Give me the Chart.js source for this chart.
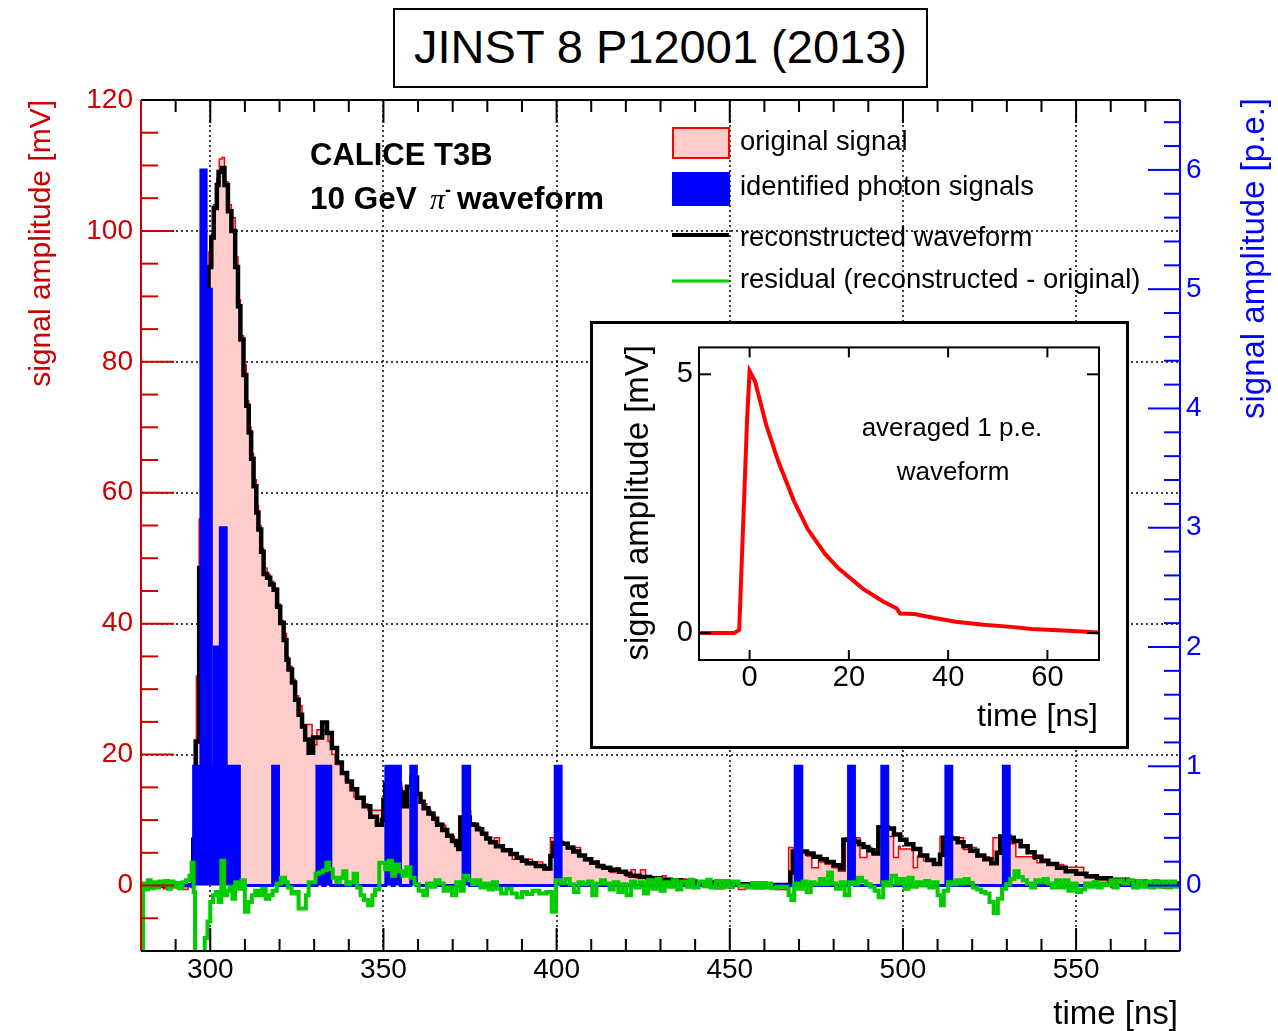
<!DOCTYPE html>
<html>
<head>
<meta charset="utf-8">
<script src="https://cdn.jsdelivr.net/npm/chart.js@4.4.1/dist/chart.umd.min.js"></script>
<style>
  body { margin: 0; background: #fff; }
  #wrap { position: relative; width: 1278px; height: 1031px; overflow: hidden; }
  #main { position: absolute; left: 0; top: 0; }
  #title {
    position: absolute; left: 393px; top: 8px; width: 535px; height: 80px;
    border: 2.5px solid #000; box-sizing: border-box; background: #fff;
    font: 47px 'Liberation Sans', Arial, sans-serif; text-align: center; line-height: 74px;
  }
  #insetBox {
    position: absolute; left: 590px; top: 321px; width: 539px; height: 428px;
    border: 3px solid #000; box-sizing: border-box; background: #fff;
  }
  #inset { position: absolute; left: 0; top: 0; }
</style>
</head>
<body>
<div id="wrap">
  <canvas id="main" width="1278" height="1031"></canvas>
  <div id="title">JINST 8 P12001 (2013)</div>
  <div id="insetBox"><canvas id="inset" width="533" height="422"></canvas></div>
</div>
<script>
const FONT = "'Liberation Sans', Arial, sans-serif";

// tick labels
const xTickLabels = [300, 350, 400, 450, 500, 550];
const yTickLabels = [0, 20, 40, 60, 80, 100, 120];
const y2TickLabels = [0, 1, 2, 3, 4, 5, 6];
const gridX = [300, 350, 400, 450, 500, 550];
const gridY = [20, 40, 60, 80, 100];
const insetXLabels = [0, 20, 40, 60];
const insetYLabels = [0, 5];

// original signal [mV], bins start at time [ns]
const originalSignal = [
  [280,-0.4],[281.6,0.2],[282.4,-0.4],[284,-0.2],[285.6,0.3],[286.4,-0.5],[288,-0.3],[289.6,0.2],[290.4,-0.4],[292,-0.6],[293.6,0.1],[294.4,-0.3],
  [295.1,9],[295.5,16],[296.0,32],[296.8,56],[297.6,70],[298.4,84],[299.0,93],[299.6,96.8],[300.3,99.5],[301.0,104],[301.9,108],[302.6,111],[303.4,111.2],
  [304.1,107.5],[305.1,104],[306.1,102],[307.2,96],[308.0,89.5],[308.7,84],[309.6,79.5],[310.4,74],[311.1,70],[311.8,66],[312.5,62],[313.3,58],[313.9,55],
  [314.7,51.5],[315.4,48.5],[316.4,47.5],[317.3,46.5],[318.3,45.5],[319.3,43],[320.2,40.5],[321.2,38.5],[322.0,35],[322.6,33.5],[323.6,31.5],[324.5,29],
  [325.5,27.5],[326.5,24.6],[329.4,21.5],[330.8,23.8],[333.2,23.6],[334.0,22],[335.1,20],[336.1,18.5],[338.0,17],[339.0,16],[340.3,14.5],[341.5,13.5],
  [344.0,12.5],[345.5,11.5],[349.5,10.5],[350.2,12.5],[351,14],[352.4,13.5],[353.2,15],[355.5,12.3],[358.5,15],[359.9,13.8],[361,12.5],[362.5,11.5],
  [363.7,10.8],[365,9.5],[366.5,9.2],[368,7.8],[369.5,7.5],[370.5,6.4],[373.0,9.8],[374.3,11.4],[375.2,9.6],[376.5,9.0],[378,8.0],[379.5,7.2],[381,6.6],
  [382,7.3],[383.5,5.9],[384.6,5.6],[387.2,4.0],[391.5,4.0],[393,3.6],[396,2.4],[398.2,7.3],[399.7,7.0],[401.5,6.5],[403,5.6],[405.4,5.8],[406.9,4.6],
  [408.5,3.8],[410.4,3.5],[411.2,3.8],[412.3,2.7],[414,2.8],[415.5,2.0],[417,2.7],[418.2,2.1],[420,1.4],[421.5,2.4],[422.7,1.2],[424.2,2.4],[425.7,1.0],
  [428.5,0.7],[430.5,1.5],[431.6,0.4],[433,0.8],[435,0.0],[436.5,1.0],[437.6,-0.3],[439,0.5],[441,0.2],[443,-0.3],[444.5,0.6],[446,-0.5],[448,0.3],
  [449.5,-0.4],[451,0.5],[452.5,-0.6],[454.5,-0.3],[457,-0.5],[460,-0.4],[463,-0.6],[467,5.8],[468.4,5.5],[470.8,5.3],[472.2,4.5],[473.7,2.7],[475.6,3.6],
  [477.5,3.3],[479.5,2.7],[481.5,2.2],[483.3,7.3],[487.6,4.3],[489.6,5.8],[491,5.0],[492.5,7.5],[497.3,4.3],[498.7,6.0],[499.2,5.6],[503,2.7],[504.2,4.5],
  [506,3.8],[508.5,3.2],[510.7,7.5],[513.6,7.3],[517.5,5.5],[519.2,5.8],[521.2,4.4],[525,4.0],[526,7.3],[529.8,7.2],[531.2,6.4],[532.6,4.4],[537.7,4.0],
  [538.7,3.5],[544.5,3.2],[546.4,2.8],[552.2,1.5],[554,1.2],[556.5,0.9],[559,0.5],[560,-0.3],[561,0.3],[563.5,0.2],[566,-0.3],[567.5,0.2],[570,-0.3],
  [572.5,0.1],[575,-0.4],[577.5,-0.2],[580,-0.2]
];

// reconstructed waveform [mV]
const reconWaveform = [
  [280,0.1],[285,0.0],[290,0.1],[295.1,7],[295.8,22],[296.8,48.5],[299.0,91.6],[299.5,94.5],[300.3,99],[301.0,103.5],[301.9,107],[302.4,109],[303.4,109.6],
  [304.1,107],[305.1,103],[306.1,100],[307.2,94.5],[308.0,88.5],[308.7,83.4],[309.6,78],[310.4,73.3],[311.1,69.2],[311.8,65.2],[312.5,61],[313.3,57],
  [313.9,54.4],[314.7,51],[315.4,47.6],[316.4,47],[317.3,46],[318.3,45.2],[319.3,42.6],[320.2,40.1],[321.2,37.5],[322.0,34.5],[322.6,33],[323.6,31],
  [324.5,28.4],[325.5,26.1],[326.5,24.3],[327.4,22.3],[328.4,20.3],[329.7,22.6],[332.3,24.9],[333.7,23.3],[335.1,21],[336.6,18.8],[338.0,17.2],[339.5,15.9],
  [340.9,14.7],[342.4,13.4],[344.3,12.1],[346.2,10.5],[348.1,9.3],[349.6,10],[350.0,13.1],[350.5,15.5],[352.4,16.2],[353.1,15.5],[354.8,14.2],[355.7,12.1],
  [356.8,15.1],[358.1,16.5],[359.7,14],[360.7,12.8],[361.6,11.8],[363,11],[364.4,10.2],[365.5,9.3],[367,8.5],[368.4,7.6],[369.8,6.8],[371,6.2],[371.6,5.6],
  [372.2,10.4],[374.9,9.3],[377,8.6],[378.5,7.9],[379.7,7.2],[380.8,6.6],[382.5,6],[384.5,5.4],[386.7,4.8],[388.5,4.3],[390,3.8],[391.4,3.4],[394,3],
  [396.5,2.6],[398.2,4.5],[399,6.5],[401.6,6.4],[403.2,5.8],[404.8,5.2],[406.5,4.6],[408.2,4],[410,3.5],[411.8,3.0],[413.5,2.7],[415.5,2.4],[418,2.1],
  [420,1.8],[421.3,1.5],[424,1.3],[427,1.1],[430,0.9],[433,0.8],[436,0.6],[440,0.45],[445,0.3],[450,0.2],[455,0.15],[460,0.1],[467.5,2.0],[468.2,5.2],
  [472.3,4.9],[474.2,4.4],[476.1,4.0],[478,3.6],[480,3.1],[481.8,2.6],[482.8,7.0],[486,6.7],[487.3,6.3],[488.6,5.9],[490,5.4],[491.5,4.9],[492.9,8.9],
  [495.6,8.7],[497.4,7.8],[499.2,7.0],[501,6.3],[503,5.6],[505,4.6],[507,3.9],[509,3.3],[510.7,4.7],[511.6,7.3],[514.1,7.2],[515.8,6.6],[517.5,6.0],
  [519.5,5.3],[521.5,4.6],[523.5,4.0],[525.5,3.4],[527.1,5.0],[528.1,7.5],[530.7,7.3],[532,6.8],[534,6.0],[536,5.1],[538,4.4],[540,3.8],[542,3.3],
  [544.5,2.7],[547,2.2],[550,1.8],[553,1.4],[556,1.1],[560,0.9],[565,0.6],[570,0.4],[575,0.3],[580,0.3]
];

// identified photon signals [p.e.]
const photonSignals = [
  [280,0],[295.2,1],[297.3,6],[298.8,5],[300.3,1],[301.2,2],[302.9,3],[304.6,1],[308.4,0],[318.0,1],[319.7,0],[330.8,1],[332.5,0],[333.2,1],[334.8,0],
  [350.7,1],[352.5,0],[353.1,1],[354.9,0],[357.9,1],[359.5,0],[373.0,1],[374.9,0],[399.6,1],[401.3,0],[468.9,1],[470.8,0],[484.3,1],[486.0,0],
  [493.9,1],[495.6,0],[512.4,1],[514.1,0],[529.0,1],[530.7,0],[580,0]
];

// residual (reconstructed - original) [mV]
const residual = [
  [280,-12],[280.6,0.3],[281.2,-0.6],[282,0.8],[282.8,-0.4],[283.6,0.5],[284.4,-0.3],[285.2,0.6],[286,0.1],[287,0.7],[287.8,-0.5],[288.6,0.6],[289.4,-0.2],
  [290.2,0.4],[291,-0.4],[292,0.5],[293,0.8],[294,1.5],[294.6,3.5],[295.2,-1],[295.6,-12],[297.6,-10.5],[298.4,-8],[299.2,-5.5],[300.0,-2.5],[300.8,-1.5],
  [301.6,-1],[302.4,-2.5],[303.2,3.8],[304,-1.5],[304.8,-0.8],[305.6,-0.2],[306.4,-2],[307.2,0.5],[308,-0.5],[309,0.8],[310,-4],[311,-2.5],[312,-1.5],
  [313,-0.8],[314,-1.5],[315,-0.5],[316,-2],[317,-1.5],[318,-0.8],[319.2,0.3],[320.4,1.2],[321.6,0.5],[322.4,-0.3],[323.5,-1.2],[324.5,-1.0],[325.5,-3.5],
  [327.6,-1.5],[328.4,0.5],[330.4,1.8],[331.4,2.0],[332.5,2.3],[333.5,3.5],[334.3,2.5],[335.4,1.2],[336.4,0.5],[337.4,1.2],[338.4,2.2],[339.3,0.2],
  [340.3,0.5],[341.4,1.8],[342.4,-0.3],[343.4,-1.5],[344.4,-2.2],[345.6,-3.0],[346.8,-1.5],[347.6,-0.6],[348.8,3.5],[350.5,2.5],[351.5,3.8],[352.5,1.5],
  [353.4,3.2],[354.5,2.2],[355.5,1.5],[356.6,2.8],[357.8,1.2],[359,0.2],[360.2,-0.8],[361.5,-1.5],[362.6,0.3],[363.8,-0.2],[365,0.8],[366.2,0.3],
  [367.4,-0.8],[368.6,-0.3],[369.8,-1.5],[371,0.5],[372.2,-0.8],[373.2,1.5],[374.5,0.8],[375.6,0.2],[376.8,0.8],[378,-0.3],[379.2,0.3],[380.4,-0.6],
  [381.6,0.5],[382.8,-0.5],[384,-1.2],[385.5,-0.5],[387,-1.2],[388.5,-1.8],[390,-1.0],[391.5,-1.3],[393,-0.8],[395,-1.2],[397,-1.0],[398.6,-4],
  [399.8,0.8],[401.2,0.4],[402.5,1.0],[403.8,0.2],[405,-1.0],[406.3,0.5],[407.6,0.2],[409,0.6],[410.3,-1.5],[411.5,0.3],[412.8,0.8],[414,0.3],
  [415.3,-0.6],[416.5,0.5],[417.8,-1.0],[419,0.2],[420.2,-1.5],[421.5,0.6],[422.7,-0.3],[424,0.5],[425.2,-1.2],[426.4,0.8],[427.6,-0.5],[428.8,1.0],
  [430,-0.8],[431.2,0.5],[432.4,-0.2],[433.6,0.8],[434.8,-0.6],[436,0.6],[437.5,-0.2],[438.5,0.9],[439.5,-0.3],[441,0.6],[442.5,-0.1],[443.5,0.9],
  [444.5,-0.3],[446,0.7],[447.3,-0.3],[448.5,0.7],[449.7,-0.2],[451,0.6],[452.5,0.0],[455,-0.3],[456.5,0.4],[457.2,-0.3],[458,0.4],[458.8,-0.3],
  [459.6,0.4],[460.4,-0.3],[461.2,0.3],[462,-0.4],[463.5,-0.2],[466.5,-0.5],[467,-1.5],[467.8,-2.2],[468.6,0.3],[469.8,-0.5],[471,0.6],[472.2,-1.0],
  [473.4,0.5],[474.5,0.2],[476,1.0],[477.2,0.2],[478.4,2.0],[479.5,0.3],[480.7,-0.5],[482,0.5],[483.2,-1.5],[484.5,0.5],[485.8,0.2],[487,1.2],
  [488.2,0.6],[489.4,0.2],[490.6,-0.2],[491.8,-0.8],[493,-1.8],[494.3,0.5],[495.5,0.0],[496.7,1.5],[498,0.3],[499.2,1.0],[500.4,-0.5],[501.6,1.2],
  [502.8,-0.2],[504,0.5],[505.2,0.0],[506.4,0.7],[507.6,-0.3],[508.8,0.5],[510,-1.5],[511,-3.0],[511.8,-0.8],[513,0.5],[514.2,0.2],[515.4,0.8],
  [516.6,0.3],[517.8,1.0],[519,0.4],[520.2,-0.3],[521.4,-0.6],[522.6,-1.0],[523.8,-1.2],[525,-2.5],[526.2,-4.2],[527.4,-2.0],[528.6,-0.5],[529.8,0.2],
  [531,1.0],[532.2,2.2],[533.4,1.3],[534.6,0.8],[535.8,0.3],[537,-0.3],[538.2,0.8],[539.4,0.5],[540.6,1.0],[541.8,0.3],[543,-0.3],[544.2,0.8],
  [545.4,-0.3],[546.6,0.8],[547.8,-0.8],[549,0.3],[550.2,-1.0],[551.4,-0.6],[552.6,0.3],[553.8,-0.2],[555,0.5],[556.2,-0.3],[557.4,0.3],[558.6,0.1],
  [560,0.8],[560.8,-0.3],[562,0.8],[563.5,0.3],[565,0.8],[566.5,-0.3],[567.8,0.7],[569,-0.2],[570.2,0.6],[571.4,-0.3],[572.6,0.7],[573.8,-0.2],
  [575,0.6],[576.2,-0.3],[577.4,0.6],[578.6,-0.2],[580,-0.2]
];

// averaged 1 p.e. waveform (inset) [ns, mV]
const insetPulse = [
  [-10.2,0],[-3.1,0],[-2.1,0.06],[-0.5,4.15],[0,5.06],[1.1,4.86],[3.35,4.02],[5.77,3.32],[8.9,2.56],[11.7,2.01],[15.2,1.53],[17.9,1.25],
  [22.8,0.86],[26.9,0.61],[29.6,0.48],[30.3,0.38],[33.2,0.37],[37.3,0.29],[41.5,0.22],[47.1,0.16],[52.7,0.12],[56.8,0.08],[65.2,0.04],[70.4,0.01]
];

const toXY = arr => arr.map(([x, y]) => ({ x, y }));
const MV_PER_PE = 18.22;

function seg(ctx, x1, y1, x2, y2) {
  ctx.beginPath(); ctx.moveTo(x1, y1); ctx.lineTo(x2, y2); ctx.stroke();
}

function vText(ctx, text, x, y, font, color) {
  ctx.save();
  ctx.translate(x, y);
  ctx.rotate(-Math.PI / 2);
  ctx.font = font; ctx.fillStyle = color;
  ctx.textAlign = 'right'; ctx.textBaseline = 'middle';
  ctx.fillText(text, 0, 0);
  ctx.restore();
}

const mainDeco = {
  id: 'mainDeco',
  beforeDatasetsDraw(chart) {
    const { ctx, chartArea: a, scales } = chart;
    ctx.save();
    ctx.strokeStyle = '#000'; ctx.lineWidth = 1.5; ctx.setLineDash([2, 3]);
    gridX.forEach(v => { const p = Math.round(scales.x.getPixelForValue(v)); seg(ctx, p, a.top, p, a.bottom); });
    gridY.forEach(v => { const p = Math.round(scales.y.getPixelForValue(v)); seg(ctx, a.left, p, a.right, p); });
    ctx.restore();
  },
  afterDatasetsDraw(chart) {
    const { ctx, chartArea: a, scales } = chart;
    ctx.save();
    ctx.lineWidth = 2;
    // bottom & top ticks
    ctx.strokeStyle = '#000';
    for (let t = 280; t <= 580; t += 10) {
      const p = scales.x.getPixelForValue(t);
      const len = t % 50 === 0 ? 23 : 12;
      seg(ctx, p, a.bottom, p, a.bottom - len);
      seg(ctx, p, a.top, p, a.top + len);
    }
    // left ticks (mV)
    ctx.strokeStyle = '#cc0000';
    for (let v = -10; v <= 120; v += 5) {
      const p = scales.y.getPixelForValue(v);
      seg(ctx, a.left, p, a.left + (v % 20 === 0 ? 33 : 17), p);
    }
    // right ticks (p.e.)
    ctx.strokeStyle = '#0000ff';
    for (let k = -2; k <= 32; k++) {
      const p = scales.y2.getPixelForValue(k / 5);
      seg(ctx, a.right, p, a.right - (k % 5 === 0 ? 32 : 16), p);
    }
    // frame
    ctx.strokeStyle = '#000';
    seg(ctx, a.left, a.top, a.right, a.top);
    seg(ctx, a.left, a.bottom, a.right, a.bottom);
    ctx.strokeStyle = '#cc0000';
    seg(ctx, a.left, a.top, a.left, a.bottom);
    ctx.strokeStyle = '#0000ff';
    seg(ctx, a.right, a.top, a.right, a.bottom);
    ctx.restore();
  },
  afterDraw(chart) {
    const { ctx } = chart;
    ctx.save();
    vText(ctx, 'signal amplitude [mV]', 42, 100, `30px ${FONT}`, '#cc0000');
    vText(ctx, 'signal amplitude [p.e.]', 1255, 98, `33px ${FONT}`, '#0000ff');
    ctx.fillStyle = '#000';
    ctx.font = `33px ${FONT}`; ctx.textAlign = 'right'; ctx.textBaseline = 'middle';
    ctx.fillText('time [ns]', 1178, 1015);

    // label
    ctx.textAlign = 'left';
    ctx.font = `bold 31px ${FONT}`;
    ctx.fillText('CALICE T3B', 310, 156);
    ctx.font = `bold 31.5px ${FONT}`;
    ctx.fillText('10 GeV', 310, 200);
    ctx.font = `italic 30px 'Liberation Serif', serif`;
    ctx.fillText('\u03c0', 430, 201);
    ctx.font = `bold 18px ${FONT}`;
    ctx.fillText('-', 445, 191);
    ctx.font = `bold 31.5px ${FONT}`;
    ctx.fillText('waveform', 457, 200);

    // legend
    ctx.fillStyle = '#ffcccc'; ctx.strokeStyle = '#ff0000'; ctx.lineWidth = 2;
    ctx.fillRect(673, 128, 56, 30); ctx.strokeRect(673, 128, 56, 30);
    ctx.fillStyle = '#0000ff';
    ctx.fillRect(672, 172, 58, 34);
    ctx.strokeStyle = '#000'; ctx.lineWidth = 4; seg(ctx, 672, 235, 729, 235);
    ctx.strokeStyle = '#00cc00'; ctx.lineWidth = 3; seg(ctx, 672, 281, 729, 281);
    ctx.fillStyle = '#000'; ctx.font = `27.4px ${FONT}`; ctx.textBaseline = 'middle';
    ctx.fillText('original signal', 740, 142);
    ctx.fillText('identified photon signals', 740, 187);
    ctx.fillText('reconstructed waveform', 740, 238);
    ctx.fillText('residual (reconstructed - original)', 740, 280);
    ctx.restore();
  }
};

const lineBase = { pointRadius: 0, stepped: true, tension: 0 };

new Chart(document.getElementById('main'), {
  type: 'line',
  data: {
    datasets: [
      { ...lineBase, label: 'residual', data: toXY(residual), borderColor: '#00cc00', borderWidth: 4, fill: false, order: 1 },
      { ...lineBase, label: 'photons', data: toXY(photonSignals), yAxisID: 'y2', borderColor: '#0000ff',
        backgroundColor: '#0000ff', borderWidth: 3, fill: 'origin', order: 2 },
      { ...lineBase, label: 'reconstructed', data: toXY(reconWaveform), borderColor: '#000', borderWidth: 4.5, fill: false, order: 3 },
      { ...lineBase, label: 'original', data: toXY(originalSignal), borderColor: '#ff0000', backgroundColor: '#ffcccc',
        borderWidth: 1.5, fill: 'origin', order: 4 }
    ]
  },
  options: {
    responsive: false, animation: false, devicePixelRatio: 1,
    layout: { padding: { top: 100, left: 0, right: 0, bottom: 0 } },
    plugins: { legend: { display: false }, tooltip: { enabled: false } },
    scales: {
      x: {
        type: 'linear', min: 280, max: 580,
        afterBuildTicks: s => { s.ticks = xTickLabels.map(v => ({ value: v })); },
        afterFit: s => { s.height = 80; },
        grid: { display: false, drawTicks: false }, border: { display: false },
        ticks: { font: { family: FONT, size: 28 }, color: '#000', padding: 2, maxRotation: 0 }
      },
      y: {
        position: 'left', min: -10, max: 120,
        afterBuildTicks: s => { s.ticks = yTickLabels.map(v => ({ value: v })); },
        afterFit: s => { s.width = 141; },
        grid: { display: false, drawTicks: false }, border: { display: false },
        ticks: { font: { family: FONT, size: 28 }, color: '#cc0000', padding: 8 }
      },
      y2: {
        position: 'right', min: -10 / MV_PER_PE, max: 120 / MV_PER_PE,
        afterBuildTicks: s => { s.ticks = y2TickLabels.map(v => ({ value: v })); },
        afterFit: s => { s.width = 98; },
        grid: { display: false, drawTicks: false }, border: { display: false },
        ticks: { font: { family: FONT, size: 28 }, color: '#0000ff', padding: 6 }
      }
    }
  },
  plugins: [mainDeco]
});

const insetDeco = {
  id: 'insetDeco',
  afterDatasetsDraw(chart) {
    const { ctx, chartArea: a, scales } = chart;
    ctx.save();
    ctx.strokeStyle = '#000'; ctx.lineWidth = 2;
    insetXLabels.forEach(v => {
      const p = scales.x.getPixelForValue(v);
      seg(ctx, p, a.bottom, p, a.bottom - 10);
      seg(ctx, p, a.top, p, a.top + 10);
    });
    insetYLabels.forEach(v => {
      const p = scales.y.getPixelForValue(v);
      seg(ctx, a.left, p, a.left + 12, p);
      seg(ctx, a.right, p, a.right - 12, p);
    });
    ctx.strokeRect(a.left, a.top, a.right - a.left, a.bottom - a.top);
    ctx.restore();
  },
  afterDraw(chart) {
    const { ctx } = chart;
    ctx.save();
    // canvas origin is at page (593, 324)
    vText(ctx, 'signal amplitude [mV]', 639 - 593, 345 - 324, `33px ${FONT}`, '#000');
    ctx.fillStyle = '#000'; ctx.textBaseline = 'middle';
    ctx.font = `32px ${FONT}`; ctx.textAlign = 'right';
    ctx.fillText('time [ns]', 1098 - 593, 717 - 324);
    ctx.font = `26px ${FONT}`; ctx.textAlign = 'center';
    ctx.fillText('averaged 1 p.e.', 952 - 593, 429 - 324);
    ctx.fillText('waveform', 953 - 593, 473 - 324);
    ctx.restore();
  }
};

new Chart(document.getElementById('inset'), {
  type: 'line',
  data: {
    datasets: [{ label: 'averaged 1 p.e. waveform', data: toXY(insetPulse), borderColor: '#ff0000',
      borderWidth: 4, pointRadius: 0, tension: 0, fill: false }]
  },
  options: {
    responsive: false, animation: false, devicePixelRatio: 1,
    layout: { padding: { top: 21, right: 27, left: 0, bottom: 0 } },
    plugins: { legend: { display: false }, tooltip: { enabled: false } },
    scales: {
      x: {
        type: 'linear', min: -10.2, max: 70.4,
        afterBuildTicks: s => { s.ticks = insetXLabels.map(v => ({ value: v })); },
        afterFit: s => { s.height = 86; },
        grid: { display: false, drawTicks: false }, border: { display: false },
        ticks: { font: { family: FONT, size: 29 }, color: '#000', padding: 1, maxRotation: 0 }
      },
      y: {
        min: -0.52, max: 5.52,
        afterBuildTicks: s => { s.ticks = insetYLabels.map(v => ({ value: v })); },
        afterFit: s => { s.width = 106; },
        grid: { display: false, drawTicks: false }, border: { display: false },
        ticks: { font: { family: FONT, size: 29 }, color: '#000', padding: 6 }
      }
    }
  },
  plugins: [insetDeco]
});
</script>
</body>
</html>
